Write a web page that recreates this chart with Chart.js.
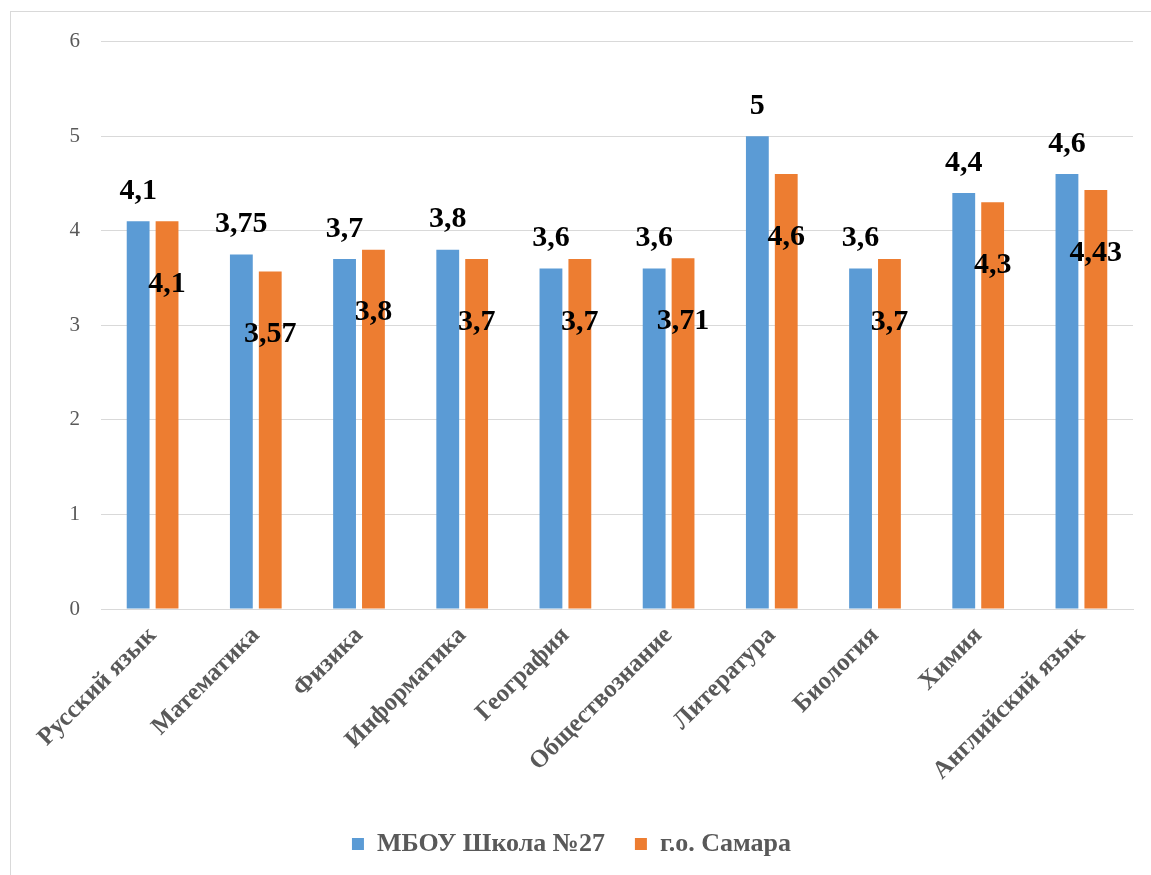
<!DOCTYPE html>
<html>
<head>
<meta charset="utf-8">
<script src="https://cdn.jsdelivr.net/npm/chart.js@4"></script>
<style>
  html, body { margin: 0; padding: 0; background: #fff; overflow: hidden; }
  #frame { position: absolute; left: 10px; top: 11px; width: 1160px; height: 900px; border: 1px solid #d9d9d9; box-sizing: border-box; }
  #wrap { position: absolute; left: 10px; top: 8px; width: 1141px; height: 867px; }
</style>
</head>
<body>
<div id="frame"></div>
<div id="wrap"><canvas id="marks-chart"></canvas></div>
<script>
// subjects on the x axis
const subjects = ["Русский язык", "Математика", "Физика", "Информатика", "География",
                  "Обществознание", "Литература", "Биология", "Химия", "Английский язык"];
// average marks
const school27 = [4.1, 3.75, 3.7, 3.8, 3.6, 3.6, 5, 3.6, 4.4, 4.6];
const samara = [4.1, 3.57, 3.8, 3.7, 3.7, 3.71, 4.6, 3.7, 4.3, 4.43];
const seriesNames = ["МБОУ Школа №27", "г.о. Самара"];
const yTicks = [0, 1, 2, 3, 4, 5, 6];

const serif = "'Liberation Serif', 'Times New Roman', serif";

// numbers like in the original: comma as decimal sign
function fmt(v) { return String(v).replace(".", ","); }

// value labels: blue ones above the bar, orange ones pulled down into the bar
const valueLabels = {
    id: "valueLabels",
    afterDatasetsDraw(chart) {
        const ctx = chart.ctx;
        ctx.save();
        ctx.font = "bold 30px " + serif;
        ctx.fillStyle = "#000";
        ctx.textAlign = "center";
        ctx.textBaseline = "middle";
        chart.data.datasets.forEach((ds, di) => {
            chart.getDatasetMeta(di).data.forEach((bar, i) => {
                const y = di === 0 ? bar.y - 30 : bar.y + 63;
                ctx.fillText(fmt(ds.data[i]), bar.x, y);
            });
        });
        ctx.restore();
    }
};

new Chart("marks-chart", {
    type: "bar",
    data: {
        labels: subjects,
        datasets: [
            {
                label: seriesNames[0],
                data: school27,
                backgroundColor: "#5b9bd5",
                borderWidth: 0,
                categoryPercentage: 0.56,
                barPercentage: 0.79
            },
            {
                label: seriesNames[1],
                data: samara,
                backgroundColor: "#ed7d31",
                borderWidth: 0,
                categoryPercentage: 0.56,
                barPercentage: 0.79
            }
        ]
    },
    options: {
        responsive: true,
        maintainAspectRatio: false,
        animation: false,
        layout: { padding: { top: 20, right: 18, bottom: 8, left: 0 } },
        plugins: {
            legend: {
                position: "bottom",
                labels: {
                    font: { family: serif, size: 26, weight: "bold" },
                    color: "#595959",
                    boxWidth: 12,
                    boxHeight: 12,
                    padding: 30
                }
            },
            tooltip: { enabled: false }
        },
        scales: {
            x: {
                grid: { display: false },
                border: { display: true, color: "#d9d9d9", width: 1 },
                ticks: {
                    font: { family: serif, size: 25, weight: "bold" },
                    color: "#595959",
                    maxRotation: 45,
                    minRotation: 45,
                    padding: 4
                },
                afterFit(scale) { scale.height = 192; }
            },
            y: {
                min: 0,
                max: 6,
                afterBuildTicks(scale) { scale.ticks = yTicks.map(v => ({ value: v })); },
                grid: { color: "#d9d9d9", lineWidth: 1, drawTicks: false },
                border: { display: false },
                ticks: {
                    font: { family: serif, size: 21 },
                    color: "#595959",
                    padding: 21
                },
                afterFit(scale) { scale.width = 91; }
            }
        }
    },
    plugins: [valueLabels]
});
</script>
</body>
</html>
